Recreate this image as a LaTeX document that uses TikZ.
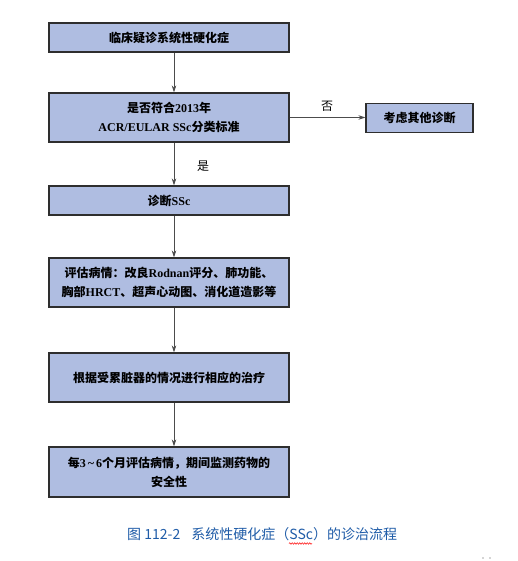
\documentclass[tikz,border=0pt]{standalone}
\usepackage{fontspec}
\setmainfont{Liberation Serif}
\newfontfamily\cjk{Noto Sans CJK SC}
\usetikzlibrary{arrows.meta,decorations.pathmorphing}
\definecolor{boxfill}{HTML}{AFBDE1}
\definecolor{boxline}{HTML}{2E2E2E}
\definecolor{capblue}{HTML}{1F5CA8}
\newcommand{\zh}[1]{{\cjk #1}}
\begin{document}
\begin{tikzpicture}[x=1pt,y=-1pt,
  stepbox/.style={draw=boxline,line width=1.2pt,fill=boxfill,minimum width=240pt,
    align=center,inner sep=0pt,font=\fontsize{12}{19}\selectfont\bfseries},
  arr/.style={draw=black!70,line width=0.9pt,-{Stealth[length=7pt,width=4.5pt]}},
  lbl/.style={font=\fontsize{12}{14}\selectfont}]
\useasboundingbox (0,0) rectangle (517,561);
\fill[white] (0,0) rectangle (517,561);
\coordinate (ax) at (174,0);
\node[stepbox,minimum height=29pt] (b1) at (169,37.5) {\zh{临床疑诊系统性硬化症}};
\node[stepbox,minimum height=49pt] (b2) at (169,117.5) {\zh{是否符合}2013\zh{年}\\ACR/EULAR SSc\zh{分类标准}};
\node[stepbox,minimum width=107pt,minimum height=29pt] (bo) at (419.5,118) {\zh{考虑其他诊断}};
\node[stepbox,minimum height=29pt] (b3) at (169,200.5) {\zh{诊断}SSc};
\node[stepbox,minimum height=49pt] (b4) at (169,282.5) {\zh{评估病情：改良}Rodnan\zh{评分、肺功能、}\\\zh{胸部}HRCT\zh{、超声心动图、消化道造影等}};
\node[stepbox,minimum height=49pt] (b5) at (169,377.5) {\zh{根据受累脏器的情况进行相应的治疗}};
\node[stepbox,minimum height=50pt] (b6) at (169,472) {\zh{每}3\,\textasciitilde\,6\zh{个月评估病情，期间监测药物的}\\\zh{安全性}};
\draw[arr] (b1.south -| ax) -- (b2.north -| ax);
\draw[arr] (b2.south -| ax) -- (b3.north -| ax);
\draw[arr] (b3.south -| ax) -- (b4.north -| ax);
\draw[arr] (b4.south -| ax) -- (b5.north -| ax);
\draw[arr] (b5.south -| ax) -- (b6.north -| ax);
\draw[arr] (b2.east) -- (bo.west |- b2.east);
\node[lbl] (no) at (327,106) {\zh{否}};
\node[lbl] (yes) at (203,166) {\zh{是}};
\node[font=\fontsize{14}{16}\selectfont\cjk,text=capblue,anchor=west,inner sep=0pt] (cap) at (127,534)
  {图 112-2\hspace{0.8em}系统性硬化症（SSc）的诊治流程};
\coordinate (w1) at (289,543.5);
\coordinate (w2) at (312,543.5);
\draw[red,line width=0.5pt,decorate,decoration={snake,amplitude=0.8pt,segment length=2.5pt}] (w1) -- (w2);
\fill[black!70] (483,558) circle (0.6pt) (490,558) circle (0.6pt);
\end{tikzpicture}
\end{document}
